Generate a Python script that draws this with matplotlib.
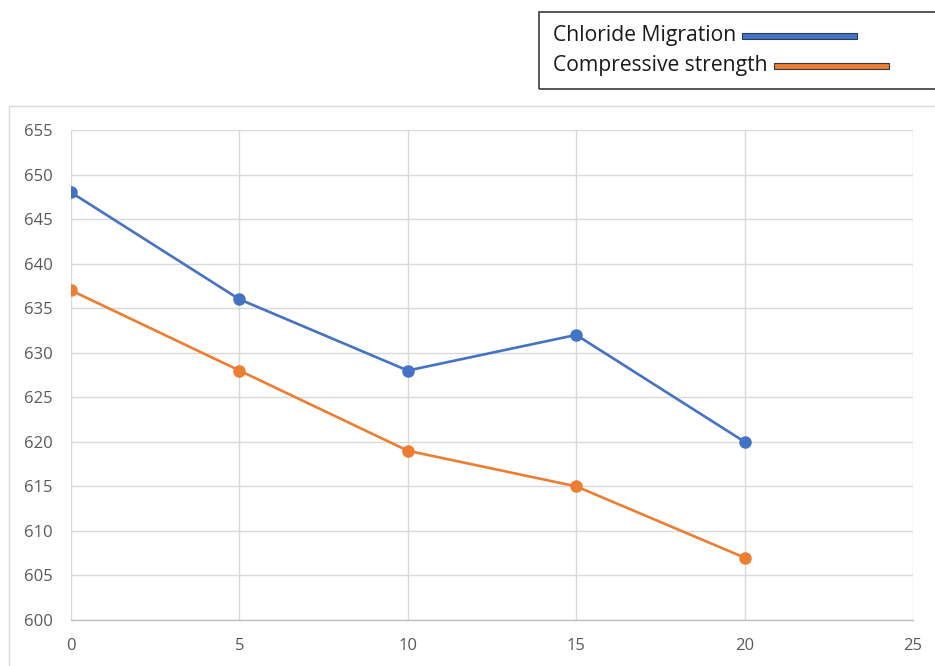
import matplotlib
matplotlib.use("Agg")
import matplotlib.pyplot as plt
from matplotlib.patches import Rectangle

# Series data
x_values = [0, 5, 10, 15, 20]
chloride_migration = [648, 636, 628, 632, 620]
compressive_strength = [637, 628, 619, 615, 607]
series_names = ["Chloride Migration", "Compressive strength"]
x_ticks = [0, 5, 10, 15, 20, 25]
y_ticks = [600, 605, 610, 615, 620, 625, 630, 635, 640, 645, 650, 655]

blue = "#4472C4"
orange = "#ED7D31"
grid_col = "#D9D9D9"
text_col = "#595959"

plt.rcParams["font.family"] = ["Open Sans", "DejaVu Sans"]

W, H = 935, 666
fig = plt.figure(figsize=(W / 100, H / 100), dpi=100)

def fx(px):
    return px / W

def fy(py):
    return 1 - py / H

ax = fig.add_axes([fx(71), fy(620), fx(913) - fx(71), fy(130) - fy(620)])

ax.plot(x_values, chloride_migration, color=blue, lw=1.9, marker="o", ms=8,
        zorder=3, solid_capstyle="round")
ax.plot(x_values, compressive_strength, color=orange, lw=1.9, marker="o", ms=8,
        zorder=3, solid_capstyle="round")

ax.set_xlim(0, 25)
ax.set_ylim(600, 655)
ax.set_xticks(x_ticks)
ax.set_yticks(y_ticks)
ax.set_xticklabels([str(v) for v in x_ticks])
ax.set_yticklabels([str(v) for v in y_ticks])
ax.grid(True, color=grid_col, lw=1.0)
ax.set_axisbelow(True)
for side in ["top", "right", "left"]:
    ax.spines[side].set_visible(False)
ax.spines["bottom"].set_color("#BFBFBF")
ax.spines["bottom"].set_linewidth(1.0)
ax.tick_params(axis="both", length=0, labelsize=12, labelcolor=text_col)
ax.tick_params(axis="y", pad=13)
ax.tick_params(axis="x", pad=13)

# Chart area border
fig.patches.append(Rectangle((fx(9), fy(700)), fx(1000) - fx(9), fy(106) - fy(700),
                             transform=fig.transFigure, fill=False,
                             edgecolor=grid_col, lw=1.0, zorder=0))

# Legend box with text followed by colour bar
fig.patches.append(Rectangle((fx(539), fy(89)), fx(1000) - fx(539), fy(12) - fy(89),
                             transform=fig.transFigure, fill=False,
                             edgecolor="#3a3a3a", lw=1.2, zorder=5))
legend_rows = [(series_names[0], blue, 36), (series_names[1], orange, 66)]
fig.canvas.draw()
renderer = fig.canvas.get_renderer()
for name, col, yc in legend_rows:
    t = fig.text(fx(553), fy(yc), name, fontsize=15.2, color="#1a1a1a",
                 ha="left", va="center")
    bb = t.get_window_extent(renderer=renderer)
    x0 = bb.x1 + 6
    fig.patches.append(Rectangle((x0 / W, fy(yc + 3)), 115 / W, 6 / H,
                                 transform=fig.transFigure, facecolor=col,
                                 edgecolor="#2f3b52", lw=0.8, zorder=6))

fig.savefig("out.png", dpi=100)
